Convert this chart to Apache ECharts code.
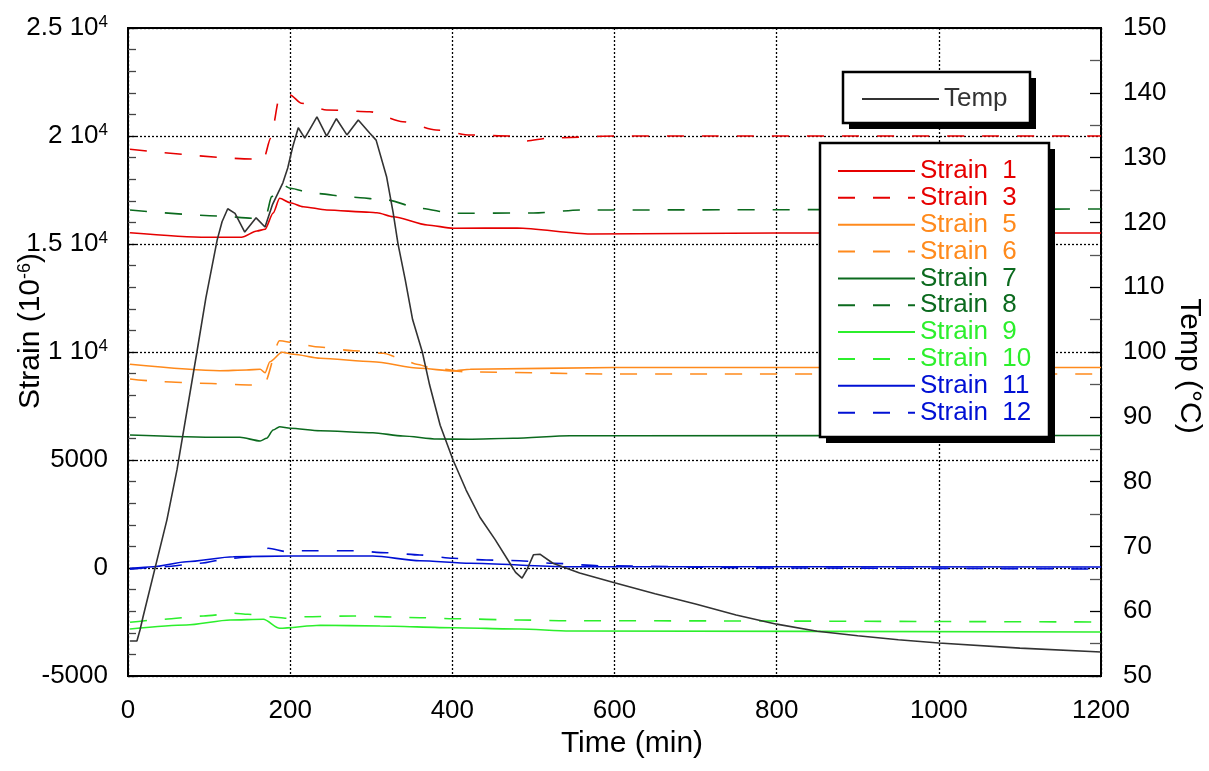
<!DOCTYPE html>
<html>
<head>
<meta charset="utf-8">
<script src="https://cdn.jsdelivr.net/npm/echarts@6/dist/echarts.min.js"></script>
<style>
html,body{margin:0;padding:0;background:#fff;}
#chart{width:1209px;height:771px;}
</style>
</head>
<body>
<div id="chart"></div>
<script>
// ---- data: [time (min), value] ----
const temp = [[2.5,55.4],[11,55.4],[14.8,57.1],[18.5,59.1],[48,74.1],[60.4,81.8],[85,100],[96,108.3],[110,117.3],[116,120.1],[123,122.1],[132,121.4],[144,118.5],[158,120.7],[169,119.3],[178,122.7],[191,126.1],[197,128.4],[203,131.6],[210,134.6],[218,133],[233,136.3],[245,133.3],[257,136],[270,133.5],[284,135.8],[298,133.8],[306,132.7],[319,127],[327,121.5],[333,116.7],[342,111.1],[351,105],[363,100],[372,94.9],[385,88.7],[401,83.3],[417,78.7],[434,74.5],[453,71],[471,67.4],[478,66],[486,65.1],[492,66.4],[500,68.7],[508,68.8],[524,67.4],[557,65.9],[600,64.4],[650,62.7],[700,61.1],[750,59.4],[800,58],[850,56.9],[900,56.2],[950,55.6],[1000,55.1],[1100,54.3],[1200,53.7]];

const strain1 = [[2.5,15524],[97,15311],[140,15311],[159,15602],[169,15681],[179,16436],[187,17116],[200,16913],[216,16727],[245,16575],[298,16468],[307,16450],[327,16265],[369,15880],[401,15728],[480,15740],[570,15460],[800,15510],[1200,15510]];
const strain3 = [[2.5,19385],[153,18936],[167,18900],[176,19900],[187,21821],[200,21900],[214,21515],[245,21205],[298,21126],[339,20663],[380,20278],[422,20047],[470,20000],[490,19769],[520,19908],[600,20000],[1200,20000]];
const strain5 = [[2.5,9431],[113,9135],[146,9167],[163,9200],[169,9042],[175,9551],[190,9986],[204,9894],[237,9709],[302,9551],[360,9246],[401,9121],[422,9200],[600,9283],[1200,9283]];
const strain6 = [[2.5,8751],[43,8626],[89,8551],[153,8473],[168,8519],[187,10524],[208,10404],[231,10246],[278,10061],[315,9940],[336,9709],[356,9431],[376,9246],[420,9075],[600,8982],[1200,8982]];
const strain7 = [[2.5,6158],[113,6051],[138,6051],[163,5880],[171,6005],[179,6389],[187,6542],[200,6468],[237,6357],[302,6264],[339,6112],[381,5973],[420,5959],[475,6005],[545,6125],[620,6125],[1200,6134]];
const strain8 = [[2.5,16575],[113,16297],[153,16191],[171,16422],[177,17191],[191,17733],[200,17580],[228,17348],[278,17163],[319,17038],[360,16654],[401,16422],[500,16436],[560,16575],[1200,16621]];
const strain9 = [[2.5,-2824],[72,-2639],[126,-2408],[167,-2375],[187,-2792],[237,-2653],[311,-2685],[401,-2764],[483,-2824],[545,-2917],[1200,-2963]];
const strain10 = [[2.5,-2514],[43,-2375],[93,-2222],[130,-2097],[148,-2144],[175,-2255],[196,-2329],[220,-2255],[278,-2222],[360,-2301],[401,-2347],[483,-2408],[541,-2440],[1200,-2500]];
const strain11 = [[2.5,-14],[31,60],[72,292],[130,523],[200,556],[302,556],[360,338],[422,218],[541,60],[1200,46]];
const strain12 = [[2.5,-60],[43,60],[89,218],[126,449],[153,523],[173,912],[196,755],[216,801],[278,801],[319,708],[360,602],[401,449],[442,370],[483,338],[524,218],[582,106],[800,0],[1200,-46]];

const seriesNames = ['Strain  1','Strain  3','Strain  5','Strain  6','Strain  7','Strain  8','Strain  9','Strain  10','Strain  11','Strain  12'];
const seriesData = [strain1,strain3,strain5,strain6,strain7,strain8,strain9,strain10,strain11,strain12];
const seriesColors = ['#e60000','#e60000','#ff8a1c','#ff8a1c','#0b6a1e','#0b6a1e','#2cef2c','#2cef2c','#0010d4','#0010d4'];
const seriesDashed = [false,true,false,true,false,true,false,true,false,true];

const xTicks = {min:0, max:1200, interval:200};
const yLeftTicks = {min:-5000, max:25000, interval:5000};
const yRightTicks = {min:50, max:150, interval:10};

const FONT = '"Liberation Sans", Arial, sans-serif';

const chart = echarts.init(document.getElementById('chart'), null, {renderer:'canvas'});

function strainLabel(v){
  if (v >= 10000) return '{b|' + (v/10000) + ' 10}{s|4}';
  return '{b|' + v + '}';
}

const series = seriesNames.map((n,i)=>({
  name:n, type:'line', data:seriesData[i], yAxisIndex:0,
  symbol:'none', smooth:0.25, smoothMonotone:'x',
  lineStyle:{color:seriesColors[i], width:1.6, type: seriesDashed[i] ? [17,18] : 'solid'},
  itemStyle:{color:seriesColors[i]},
  z:2
}));
series.push({
  name:'Temp', type:'line', data:temp, yAxisIndex:1, symbol:'none', smooth:false,
  lineStyle:{color:'#333', width:1.6}, itemStyle:{color:'#333'}, z:2.5
});

const hiddenSymbol = {color:'rgba(0,0,0,0)', borderColor:'rgba(0,0,0,0)', borderWidth:0, opacity:0};

const option = {
  animation:false,
  backgroundColor:'#fff',
  textStyle:{fontFamily:FONT},
  grid:{left:128, right:108, top:28, bottom:95, show:true, borderColor:'#000', borderWidth:2, backgroundColor:'transparent'},
  xAxis:{
    type:'value', min:xTicks.min, max:xTicks.max, interval:xTicks.interval,
    axisLine:{show:true, onZero:false, lineStyle:{color:'#000', width:2}},
    axisTick:{show:false},
    axisLabel:{fontSize:26, color:'#000', margin:22, fontFamily:FONT, formatter:v=>String(v)},
    splitLine:{show:true, lineStyle:{color:'#000', type:[2,2], width:1.3}}
  },
  yAxis:[{
    type:'value', min:yLeftTicks.min, max:yLeftTicks.max, interval:yLeftTicks.interval, position:'left',
    axisLine:{show:true, onZero:false, lineStyle:{color:'#000', width:2}},
    axisTick:{show:true, inside:true, length:8, lineStyle:{color:'#000', width:1.3}},
    minorTick:{show:true, splitNumber:5, length:8, lineStyle:{color:'#444', width:1.3}},
    axisLabel:{color:'#000', margin:20, fontFamily:FONT, formatter:strainLabel,
      rich:{b:{fontSize:26, fontFamily:FONT, color:'#000'}, s:{fontSize:17, fontFamily:FONT, color:'#000', verticalAlign:'top', padding:[0,0,12,0]}}},
    splitLine:{show:true, lineStyle:{color:'#000', type:[2,2], width:1.3}}
  },{
    type:'value', min:yRightTicks.min, max:yRightTicks.max, interval:yRightTicks.interval, position:'right',
    axisLine:{show:true, onZero:false, lineStyle:{color:'#000', width:2}},
    axisTick:{show:true, inside:true, length:11, lineStyle:{color:'#000', width:1.3}},
    minorTick:{show:true, splitNumber:2, length:11, lineStyle:{color:'#555', width:1.3}},
    axisLabel:{fontSize:26, color:'#000', margin:22, fontFamily:FONT},
    splitLine:{show:false}
  }],
  legend:[{
    data:[{name:'Temp', textStyle:{color:'#333'}}],
    orient:'vertical', left:861, top:86, padding:0, itemWidth:77, itemHeight:14, itemGap:0,
    itemStyle:hiddenSymbol,
    textStyle:{fontSize:26, lineHeight:26, fontFamily:FONT}, selectedMode:false, z:5
  },{
    data:seriesNames.map((n,i)=>({name:n, textStyle:{color:seriesColors[i]}})),
    orient:'vertical', left:837, top:158, padding:0, itemWidth:77, itemHeight:14, itemGap:0.85,
    itemStyle:hiddenSymbol,
    textStyle:{fontSize:26, lineHeight:26, fontFamily:FONT}, selectedMode:false, z:5
  }],
  graphic:[
    {type:'rect', z:3, shape:{x:849, y:78, width:187, height:51}, style:{fill:'#000'}},
    {type:'rect', z:3, shape:{x:843, y:72, width:187, height:51}, style:{fill:'#fff', stroke:'#000', lineWidth:2.5}},
    {type:'rect', z:3, shape:{x:826, y:149, width:229, height:294}, style:{fill:'#000'}},
    {type:'rect', z:3, shape:{x:820, y:143, width:229, height:294}, style:{fill:'#fff', stroke:'#000', lineWidth:2.5}},
    {type:'text', z:5, x:632, y:744, style:{text:'Time (min)', font:'30px '+FONT, fill:'#000', align:'center', verticalAlign:'middle', textAlign:'center', textVerticalAlign:'middle'}},
    {type:'text', z:5, x:31, y:331, rotation:Math.PI/2,
      style:{text:'{n|Strain (10}{s|-6}{n|)}', fill:'#000', align:'center', verticalAlign:'middle', textAlign:'center', textVerticalAlign:'middle',
        rich:{n:{fontSize:30, fontFamily:FONT, fill:'#000', color:'#000'}, s:{fontSize:18, fontFamily:FONT, fill:'#000', color:'#000', verticalAlign:'top', padding:[0,0,12,0]}}}},
    {type:'text', z:5, x:1189, y:366, rotation:-Math.PI/2,
      style:{text:'Temp (°C)', font:'30px '+FONT, fill:'#000', align:'center', verticalAlign:'middle', textAlign:'center', textVerticalAlign:'middle'}}
  ],
  series:series
};
chart.setOption(option);
</script>
</body>
</html>
